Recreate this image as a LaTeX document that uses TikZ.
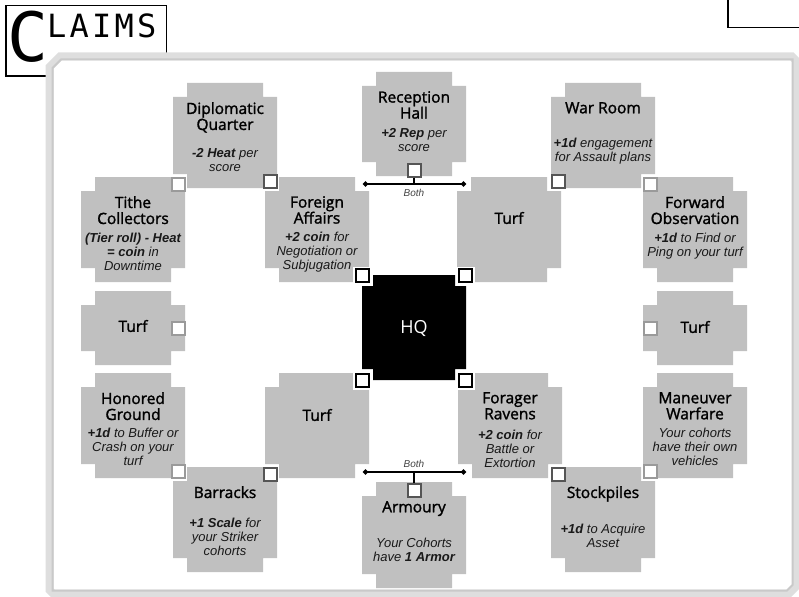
\documentclass[tikz,border=0pt]{standalone}
\usepackage{fontspec}
\setmainfont{Liberation Sans}
\newfontfamily\ttlfont[FakeBold=1.6]{Open Sans}
\newfontfamily\hqfont{Open Sans}
\newfontfamily\monofont[LetterSpace=10]{DejaVu Sans Mono}
\usetikzlibrary{arrows.meta}

\definecolor{tilegray}{HTML}{C0C0C0}
\definecolor{boxdark}{HTML}{555555}
\definecolor{boxlight}{HTML}{9A9A9A}
\definecolor{framegray}{HTML}{DEDEDE}
\definecolor{frameline}{HTML}{C9C9C9}
\definecolor{bothgray}{HTML}{444444}

% tile: fill, centre x, top, height, notch
\newcommand{\claimshape}[5]{%
  \fill[#1] ({#2-52+#5},{#3}) -- ({#2+52-#5},{#3}) -- ({#2+52-#5},{#3+#5}) -- ({#2+52},{#3+#5})
    -- ({#2+52},{#3+#4-#5}) -- ({#2+52-#5},{#3+#4-#5}) -- ({#2+52-#5},{#3+#4}) -- ({#2-52+#5},{#3+#4})
    -- ({#2-52+#5},{#3+#4-#5}) -- ({#2-52},{#3+#4-#5}) -- ({#2-52},{#3+#5}) -- ({#2-52+#5},{#3+#5}) -- cycle;}
% claim: name, centre x, top, height, title, desc y, desc
\newcommand{\claim}[7]{%
  \claimshape{tilegray}{#2}{#3}{#4}{14}
  \node[ttl, anchor=north] (#1) at ({#2},{#3+19}) {#5};
  \node[dsc] (#1-d) at ({#2},{#6}) {#7};}
% turf: name, centre x, top, height, text y
\newcommand{\turf}[5]{%
  \claimshape{tilegray}{#2}{#3}{#4}{14}
  \node[ttl] (#1) at ({#2},{#5}) {Turf};}

\begin{document}
\begin{tikzpicture}[x=1pt, y=-1pt,
    ttl/.style={font=\ttlfont\fontsize{15.5}{16}\selectfont, align=center, inner sep=0pt, text=black},
    dsc/.style={font=\itshape\fontsize{13}{14}\selectfont, align=center, inner sep=0pt, text=black!90},
    both/.style={font=\itshape\fontsize{10}{10}\selectfont, text=bothgray, inner sep=0pt},
    dkbox/.style={draw=boxdark, fill=white, line width=2pt, minimum size=13pt, inner sep=0pt},
    ltbox/.style={dkbox, draw=boxlight},
    hqbox/.style={dkbox, draw=black, preaction={draw=white, line width=5pt}},
    bothline/.style={line width=1.6pt, {Circle[length=5pt]}-{Circle[length=5pt]}},
  ]
  \useasboundingbox (0,0) rectangle (799,596);

  % title
  \draw[line width=1.5pt] (6,5.5) rectangle (166.5,76);
  \node[anchor=base west, inner sep=0pt, font=\monofont\fontsize{68}{68}\selectfont] (titleC) at (7,62) {C};
  \node[anchor=base west, inner sep=0pt, font=\monofont\fontsize{32}{32}\selectfont] (titleRest) at (47,38) {LAIMS};
  \draw[line width=1.5pt] (728,-5) rectangle (810,27.5);

  % frame
  \draw[framegray, line width=8pt, fill=white] (49.5,67) -- (60,56.5) -- (792,56.5) -- (796.5,61) -- (796.5,586)
    -- (789,593.5) -- (53,593.5) -- (49.5,590) -- cycle;
  \draw[frameline, line width=2pt] (52.5,68) -- (61,59.5) -- (792.5,59.5) -- (792.5,585) -- (787,590.5)
    -- (52.5,590.5) -- cycle;

  % claims
  \claim{dipl}{225}{83}{105}{Diplomatic\\Quarter}{160}{\textbf{-2 Heat} per\\score}
  \claim{recep}{414}{72}{104}{Reception\\Hall}{140}{\textbf{+2 Rep} per\\score}
  \claim{war}{603}{83}{105}{War Room}{151}{\textbf{+1d} engagement\\for Assault plans}
  \claim{tithe}{133}{177}{105}{Tithe\\Collectors}{252}{\textbf{(Tier roll) - Heat}\\\textbf{= coin} in\\Downtime}
  \claim{foreign}{317}{177}{105}{Foreign\\Affairs}{252}{\textbf{+2 coin} for\\Negotiation or\\Subjugation}
  \turf{turfne}{509}{177}{105}{218}
  \claim{fwd}{695}{177}{105}{Forward\\Observation}{246}{\textbf{+1d} to Find or\\Ping on your turf}
  \turf{turfw}{133}{291}{74}{326}
  \turf{turfe}{695}{291}{74}{327}
  \claim{honored}{133}{373}{105}{Honored\\Ground}{447}{\textbf{+1d} to Buffer or\\Crash on your\\turf}
  \turf{turfsw}{317}{373}{105}{415}
  \claim{forager}{510}{373}{105}{Forager\\Ravens}{449}{\textbf{+2 coin} for\\Battle or\\Extortion}
  \claim{maneuver}{695}{373}{105}{Maneuver\\Warfare}{447}{Your cohorts\\have their own\\vehicles}
  \claim{barracks}{225}{467}{105}{Barracks}{537}{\textbf{+1 Scale} for\\your Striker\\cohorts}
  \claim{armoury}{414}{482}{106}{Armoury}{550}{Your Cohorts\\have \textbf{1 Armor}}
  \claim{stock}{603}{467}{105}{Stockpiles}{536}{\textbf{+1d} to Acquire\\Asset}

  % headquarters
  \claimshape{black}{414}{275}{105}{11}
  \node[inner sep=0pt, text=white, font=\hqfont\fontsize{18}{18}\selectfont] (hq) at (414,328) {HQ};

  % boxes
  \node[dkbox] (dipl-box) at (270,181) {};
  \node[ltbox] (tithe-box) at (178,184) {};
  \node[dkbox] (war-box) at (558,181) {};
  \node[ltbox] (fwd-box) at (650,184) {};
  \node[dkbox] (recep-box) at (414,170) {};
  \node[ltbox] (turfw-box) at (178,328) {};
  \node[ltbox] (turfe-box) at (650,328) {};
  \node[ltbox] (honored-box) at (178,471) {};
  \node[dkbox] (barracks-box) at (270,474) {};
  \node[ltbox] (maneuver-box) at (650,471) {};
  \node[dkbox] (stock-box) at (558,474) {};
  \node[dkbox] (armoury-box) at (414,490) {};
  \node[hqbox] (hq-nw) at (362,275.5) {};
  \node[hqbox] (hq-ne) at (465.5,275.5) {};
  \node[hqbox] (hq-sw) at (362,380.5) {};
  \node[hqbox] (hq-se) at (465.5,380.5) {};

  % both
  \coordinate (bothnw) at (363,184);
  \coordinate (bothne) at (466,184);
  \draw[bothline] (bothnw) -- (bothne);
  \draw[line width=1.6pt] (recep-box) -- (recep-box |- bothnw);
  \node[both] (both-n) at (414,193) {Both};
  \coordinate (bothsw) at (363,472);
  \coordinate (bothse) at (466,472);
  \draw[bothline] (bothsw) -- (bothse);
  \draw[line width=1.6pt] (armoury-box) -- (armoury-box |- bothsw);
  \node[both] (both-s) at (414,464) {Both};
\end{tikzpicture}
\end{document}
